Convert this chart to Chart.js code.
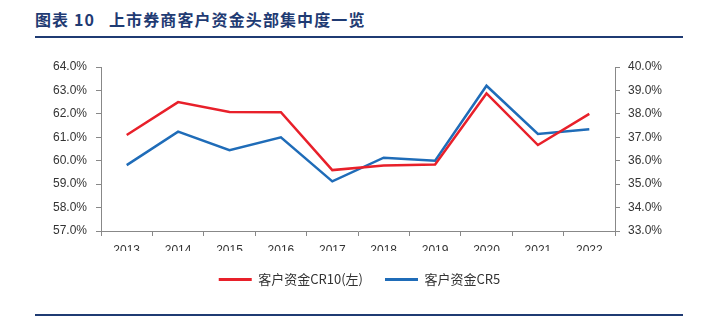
<!DOCTYPE html>
<html>
<head>
<meta charset="utf-8">
<script src="https://cdn.jsdelivr.net/npm/chart.js@4.4.0/dist/chart.umd.min.js"></script>
<style>
  body{margin:0;background:#fff;width:703px;height:321px;overflow:hidden;position:relative;font-family:"Noto Sans CJK SC",sans-serif}
  .title{position:absolute;left:35px;top:7px;font-size:16px;font-weight:700;color:#1f3b73;white-space:nowrap;letter-spacing:1.1px}
  .title span{margin-left:14px}
  .rule{position:absolute;left:35px;width:648px;height:2px;background:#1f3b73}
  #wrap{position:absolute;left:0;top:45px;width:703px;height:262px}
</style>
</head>
<body>
<div class="title">图表 10<span>上市券商客户资金头部集中度一览</span></div>
<div class="rule" style="top:36px"></div>
<div id="wrap"><canvas id="myChart"></canvas></div>
<div class="rule" style="top:314px"></div>
<script>
// years
const years=['2013','2014','2015','2016','2017','2018','2019','2020','2021','2022']

// CR10 (left axis), CR5 (right axis), in %
const cr10=[61.1,62.5,62.08,62.07,59.6,59.8,59.84,62.87,60.67,62.0]
const cr5=[35.81,37.24,36.45,37.0,35.12,36.13,36.0,39.2,37.14,37.34]

const cr10Label='客户资金CR10(左)'
const cr5Label='客户资金CR5'

const redColor='#e8202a'
const blueColor='#1f6cb8'
const axisColor='#888888'
const tickFont={family:'"Liberation Sans", sans-serif',size:12}

const ctx=document.getElementById('myChart')

new Chart(ctx,{
  type:'line',
  data:{
    labels:years,
    datasets:[{
      label:cr10Label,
      data:cr10,
      borderColor:redColor,
      backgroundColor:redColor,
      borderWidth:2.5,
      pointRadius:0,
      tension:0,
      yAxisID:'y'
    },{
      label:cr5Label,
      data:cr5,
      borderColor:blueColor,
      backgroundColor:blueColor,
      borderWidth:2.5,
      pointRadius:0,
      tension:0,
      yAxisID:'y1'
    }]
  },
  options:{
    responsive:true,
    maintainAspectRatio:false,
    animation:false,
    layout:{padding:{top:22,bottom:11,left:16}},
    plugins:{
      tooltip:{enabled:false},
      legend:{
        position:'bottom',
        labels:{
          boxWidth:33,
          boxHeight:3,
          padding:22,
          color:'#333',
          font:{family:'"Noto Sans CJK SC", sans-serif',size:13},
          generateLabels:(chart)=>chart.data.datasets.map((ds,i)=>({
            text:ds.label,
            fillStyle:ds.borderColor,
            strokeStyle:ds.borderColor,
            lineWidth:0,
            fontColor:'#333',
            datasetIndex:i
          }))
        }
      }
    },
    scales:{
      x:{
        offset:true,
        grid:{display:true,drawOnChartArea:false,offset:true,color:axisColor,tickLength:5},
        border:{color:axisColor},
        ticks:{color:'#333',font:tickFont,padding:7,maxRotation:0},
        afterFit:(s)=>{s.height=20}
      },
      y:{
        position:'left',
        min:57,max:64,
        grid:{display:true,drawOnChartArea:false,color:axisColor,tickLength:5},
        border:{color:axisColor},
        ticks:{stepSize:1,color:'#333',font:tickFont,padding:9,callback:(v)=>v.toFixed(1)+'%'},
        afterFit:(s)=>{s.width=85}
      },
      y1:{
        position:'right',
        min:33,max:40,
        grid:{display:true,drawOnChartArea:false,color:axisColor,tickLength:5},
        border:{color:axisColor},
        ticks:{stepSize:1,color:'#333',font:tickFont,padding:8,callback:(v)=>v.toFixed(1)+'%'},
        afterFit:(s)=>{s.width=88}
      }
    }
  }
})
</script>
</body>
</html>
